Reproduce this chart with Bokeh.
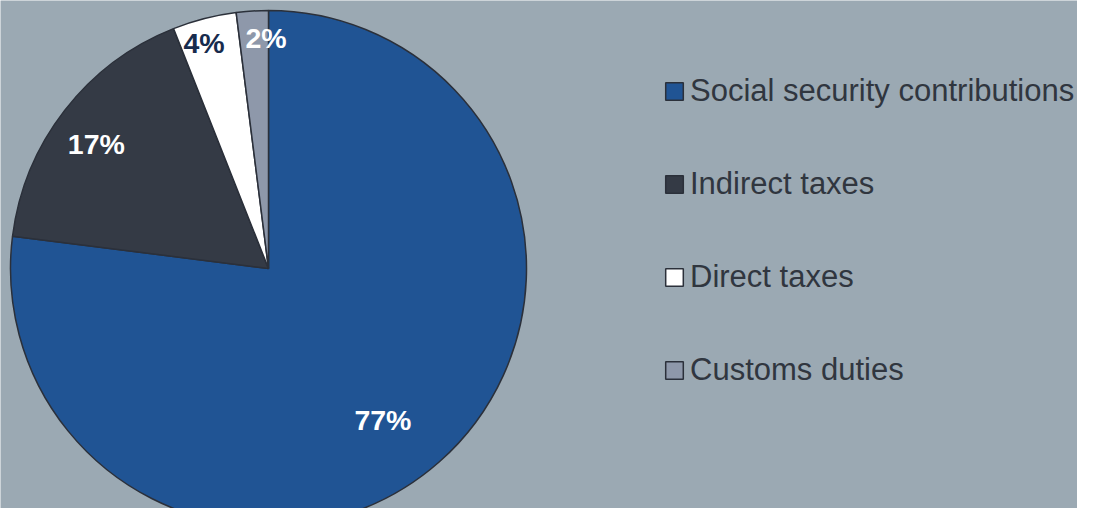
import math
from bokeh.plotting import figure
from bokeh.models import ColumnDataSource, Legend, LegendItem, Range1d
from bokeh.core.properties import value
from bokeh.embed import file_html
from bokeh.resources import INLINE

# ---- data ----
categories = ["Social security contributions", "Indirect taxes", "Direct taxes", "Customs duties"]
shares = [77, 17, 4, 2]
slice_colors = ["#205494", "#343a45", "#ffffff", "#8e98aa"]
label_colors = ["#ffffff", "#ffffff", "#172b4d", "#ffffff"]

# ---- layout / style ----
W, H = 1077, 508
CX, CY, R = 268, 240, 258
label_r_frac = [0.735, 0.82, 0.91, 0.89]
label_dx = [-11, -5, -6, 12]
label_dy = [-9, -5, -2, 1]
BG = "#9ba9b3"

total = float(sum(shares))
starts, ends, lx, ly, labels = [], [], [], [], []
cum = 0.0
for i, s in enumerate(shares):
    a0 = math.pi / 2 - 2 * math.pi * cum / total
    cum += s
    a1 = math.pi / 2 - 2 * math.pi * cum / total
    starts.append(a1)
    ends.append(a0)
    mid = (a0 + a1) / 2
    lx.append(CX + R * label_r_frac[i] * math.cos(mid) + label_dx[i])
    ly.append(CY + R * label_r_frac[i] * math.sin(mid) + label_dy[i])
    labels.append(f"{s}%")

src = ColumnDataSource(dict(cat=categories, start=starts, end=ends, color=slice_colors))
lsrc = ColumnDataSource(dict(x=lx, y=ly, text=labels, color=label_colors))

p = figure(width=W, height=H, output_backend="svg", toolbar_location=None,
           x_range=Range1d(0, W), y_range=Range1d(0, H),
           x_axis_type=None, y_axis_type=None, min_border=0,
           background_fill_color=BG, border_fill_color=BG)
p.outline_line_color = None
p.grid.visible = False

r = p.wedge(x=CX, y=CY, radius=R, start_angle="start", end_angle="end",
            direction="anticlock", fill_color="color", line_color="#2b303a",
            line_width=1.5, source=src)

p.text(x="x", y="y", text="text", text_color="color", source=lsrc,
       text_font=value("Liberation Sans"), text_font_size="28.5px",
       text_font_style="bold", text_align="center", text_baseline="middle")

items = [LegendItem(label=c, renderers=[r], index=i) for i, c in enumerate(categories)]
legend = Legend(items=items, location=(663, 118), orientation="vertical",
                label_text_font="Liberation Sans", label_text_font_size="31px",
                label_text_color="#30363f", glyph_width=22, glyph_height=22,
                label_height=40, spacing=53, label_standoff=5,
                padding=0, margin=0, border_line_color=None,
                background_fill_alpha=0)
p.add_layout(legend, "center")

open("out.html", "w").write(file_html(p, INLINE))
